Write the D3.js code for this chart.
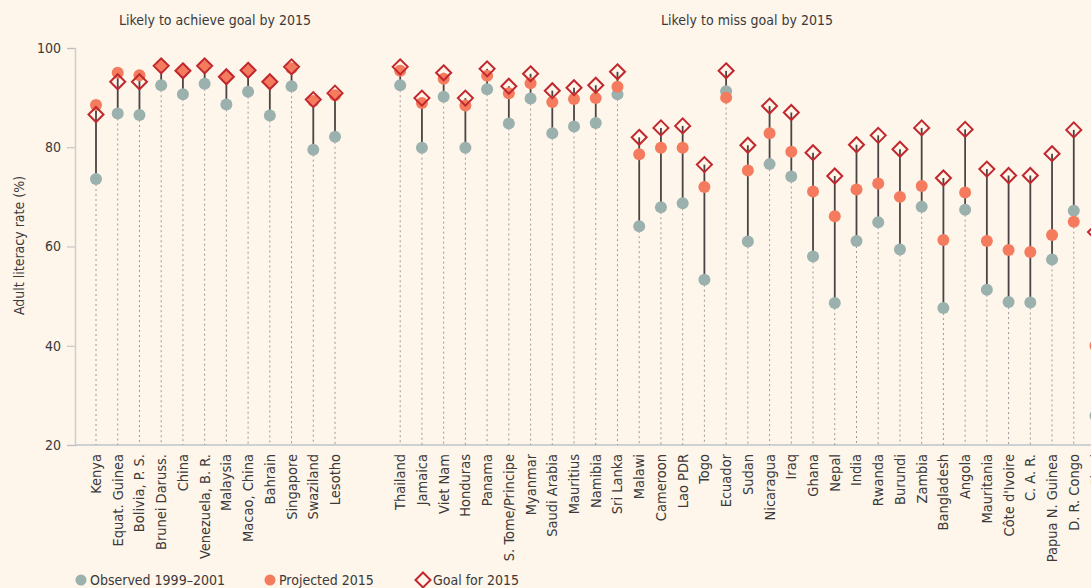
<!DOCTYPE html>
<html>
<head>
<meta charset="utf-8">
<script src="https://cdn.jsdelivr.net/npm/d3@7"></script>
<style>
  html, body { margin: 0; padding: 0; background: #fef5eb; }
  svg { display: block; }
  text { font-family: "DejaVu Sans Condensed", "DejaVu Sans", sans-serif; fill: #3a3a3a; }
</style>
</head>
<body>
<svg id="drawing_region"></svg>
<script>
// countries likely to achieve the goal
const achieve_countries = ["Kenya", "Equat. Guinea", "Bolivia, P. S.", "Brunei Daruss.", "China",
    "Venezuela, B. R.", "Malaysia", "Macao, China", "Bahrain", "Singapore", "Swaziland", "Lesotho"];
const achieve_observed  = [73.6, 86.8, 86.5, 92.5, 90.7, 92.8, 88.6, 91.2, 86.4, 92.3, 79.5, 82.1];
const achieve_projected = [88.5, 95.0, 94.5, 96.4, 95.4, 96.4, 94.2, 95.5, 93.2, 95.9, 89.3, 90.5];
const achieve_goal      = [86.6, 93.2, 93.2, 96.4, 95.4, 96.4, 94.2, 95.5, 93.2, 96.2, 89.6, 90.9];

// countries likely to miss the goal
const miss_countries = ["Thailand", "Jamaica", "Viet Nam", "Honduras", "Panama", "S. Tome/Principe",
    "Myanmar", "Saudi Arabia", "Mauritius", "Namibia", "Sri Lanka", "Malawi", "Cameroon", "Lao PDR",
    "Togo", "Ecuador", "Sudan", "Nicaragua", "Iraq", "Ghana", "Nepal", "India", "Rwanda", "Burundi",
    "Zambia", "Bangladesh", "Angola", "Mauritania", "Côte d'Ivoire", "C. A. R.", "Papua N. Guinea",
    "D. R. Congo", "Chad"];
const miss_observed  = [92.5, 79.9, 90.2, 79.9, 91.7, 84.8, 89.8, 82.8, 84.2, 84.9, 90.7, 64.1, 67.9, 68.7,
    53.3, 91.3, 61.0, 76.6, 74.1, 58.0, 48.6, 61.1, 64.9, 59.4, 68.0, 47.6, 67.4, 51.3, 48.8, 48.7, 57.4, 67.2, 25.9];
const miss_projected = [95.4, 88.9, 93.8, 88.4, 94.4, 90.9, 92.9, 89.1, 89.7, 89.9, 92.2, 78.6, 79.9, 79.9,
    72.0, 90.0, 75.3, 82.8, 79.1, 71.1, 66.1, 71.5, 72.7, 70.0, 72.2, 61.3, 70.9, 61.1, 59.3, 58.9, 62.3, 65.0, 40.0];
const miss_goal      = [96.2, 89.9, 95.0, 89.9, 95.8, 92.3, 94.8, 91.4, 92.0, 92.5, 95.2, 82.0, 83.9, 84.3,
    76.5, 95.4, 80.4, 88.3, 87.0, 78.9, 74.2, 80.5, 82.4, 79.6, 83.9, 73.8, 83.6, 75.6, 74.3, 74.3, 78.7, 83.5, 62.9];

const y_ticks = [20, 40, 60, 80, 100];
const group_titles = ["Likely to achieve goal by 2015", "Likely to miss goal by 2015"];
const legend_labels = ["Observed 1999–2001", "Projected 2015", "Goal for 2015"];

const colors = { observed: "#9bb1ad", projected: "#f47b5e", goal: "#c1272d" };

const gaps = ["_gap1", "_gap2"];
const data = [];
achieve_countries.forEach((c, i) => data.push({ name: c, obs: achieve_observed[i], proj: achieve_projected[i], goal: achieve_goal[i] }));
miss_countries.forEach((c, i) => data.push({ name: c, obs: miss_observed[i], proj: miss_projected[i], goal: miss_goal[i] }));

const width = 1091, height = 588;
const svg = d3.select("#drawing_region")
    .attr("width", width)
    .attr("height", height);

const xscale = d3.scalePoint()
    .domain([...achieve_countries, ...gaps, ...miss_countries])
    .range([96, 1095.5]);

const yscale = d3.scaleLinear()
    .domain([20, 100])
    .range([445, 48]);

// y axis
const yaxis_group = svg.append("g")
    .attr("transform", "translate(75, 0)")
    .call(d3.axisLeft(yscale).tickValues(y_ticks).tickSize(8).tickPadding(6));
yaxis_group.select(".domain").attr("stroke", "#cfcfcf").attr("stroke-width", 1.5);
yaxis_group.selectAll(".tick line").attr("stroke", "#bdbdbd");
yaxis_group.selectAll(".tick text")
    .attr("font-size", "14px")
    .attr("fill", "#3a3a3a")
    .style("font-family", "'DejaVu Sans Condensed', sans-serif");

svg.append("text")
    .attr("transform", `translate(24, ${yscale(60) - 1}) rotate(-90)`)
    .attr("text-anchor", "middle")
    .attr("font-size", "14px")
    .text("Adult literacy rate (%)");

// baseline
svg.append("line")
    .attr("x1", 75).attr("x2", width)
    .attr("y1", yscale(20)).attr("y2", yscale(20))
    .attr("stroke", "#bfc3cc")
    .attr("stroke-width", 1.5);

// group titles
svg.append("text")
    .attr("x", 215).attr("y", 25)
    .attr("text-anchor", "middle")
    .attr("font-size", "14px")
    .text(group_titles[0]);
svg.append("text")
    .attr("x", 747).attr("y", 25)
    .attr("text-anchor", "middle")
    .attr("font-size", "14px")
    .text(group_titles[1]);

const chart = svg.append("g");

// dotted guides down to the baseline
chart.selectAll(".guide")
    .data(data)
    .enter()
    .append("line")
    .attr("class", "guide")
    .attr("x1", d => xscale(d.name)).attr("x2", d => xscale(d.name))
    .attr("y1", d => yscale(Math.min(d.obs, d.proj, d.goal)))
    .attr("y2", yscale(20))
    .attr("stroke", "#9a9a9a")
    .attr("stroke-width", 1)
    .attr("stroke-dasharray", "2,3");

// stems
chart.selectAll(".stem")
    .data(data)
    .enter()
    .append("line")
    .attr("class", "stem")
    .attr("x1", d => xscale(d.name)).attr("x2", d => xscale(d.name))
    .attr("y1", d => yscale(Math.min(d.obs, d.proj, d.goal)))
    .attr("y2", d => yscale(Math.max(d.obs, d.proj, d.goal)))
    .attr("stroke", "#4a4542")
    .attr("stroke-width", 1.8);

chart.selectAll(".obs")
    .data(data)
    .enter()
    .append("circle")
    .attr("class", "obs")
    .attr("cx", d => xscale(d.name))
    .attr("cy", d => yscale(d.obs))
    .attr("r", 6)
    .attr("fill", colors.observed);

chart.selectAll(".proj")
    .data(data)
    .enter()
    .append("circle")
    .attr("class", "proj")
    .attr("cx", d => xscale(d.name))
    .attr("cy", d => yscale(d.proj))
    .attr("r", 6)
    .attr("fill", colors.projected);

const diamond = "M0,-7.5L7.5,0L0,7.5L-7.5,0Z";
chart.selectAll(".goal")
    .data(data)
    .enter()
    .append("path")
    .attr("class", "goal")
    .attr("d", diamond)
    .attr("transform", d => `translate(${xscale(d.name)}, ${yscale(d.goal)})`)
    .attr("fill", "none")
    .attr("stroke", colors.goal)
    .attr("stroke-width", 2);

// country labels
chart.selectAll(".country")
    .data(data)
    .enter()
    .append("text")
    .attr("class", "country")
    .attr("transform", d => `translate(${xscale(d.name) + 5}, 454) rotate(-90)`)
    .attr("text-anchor", "end")
    .attr("font-size", "14.5px")
    .text(d => d.name);

// legend
const legend = svg.append("g").attr("transform", "translate(0, 580)");
legend.append("circle").attr("cx", 81).attr("cy", 0).attr("r", 5.5).attr("fill", colors.observed);
legend.append("text").attr("x", 90).attr("y", 5).attr("font-size", "14px").text(legend_labels[0]);
legend.append("circle").attr("cx", 270).attr("cy", 0).attr("r", 5.5).attr("fill", colors.projected);
legend.append("text").attr("x", 279).attr("y", 5).attr("font-size", "14px").text(legend_labels[1]);
legend.append("path").attr("d", diamond).attr("transform", "translate(423, 0)")
    .attr("fill", "none").attr("stroke", colors.goal).attr("stroke-width", 2);
legend.append("text").attr("x", 433).attr("y", 5).attr("font-size", "14px").text(legend_labels[2]);
</script>
</body>
</html>
